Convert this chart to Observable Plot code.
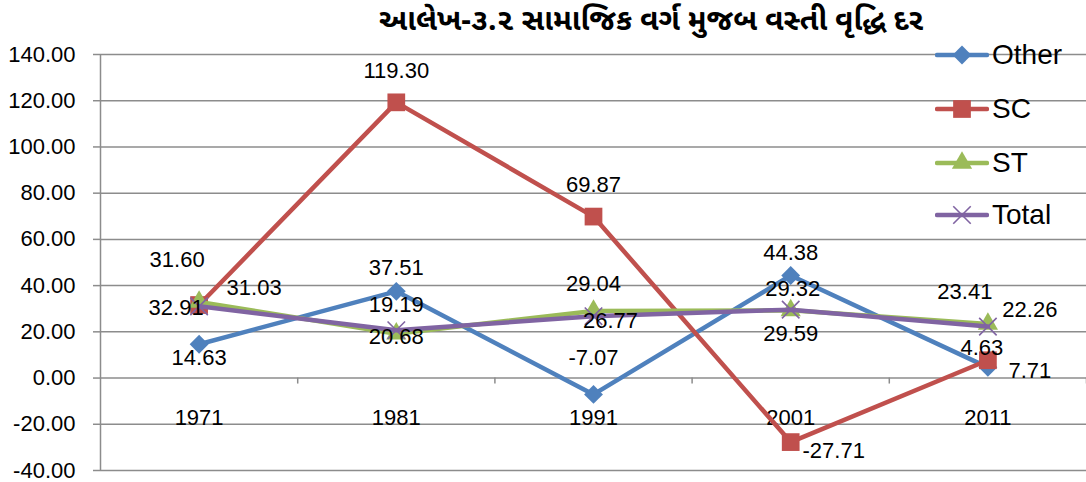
<!DOCTYPE html>
<html><head><meta charset="utf-8">
<script src="https://cdn.jsdelivr.net/npm/d3@7"></script>
<script src="https://cdn.jsdelivr.net/npm/@observablehq/plot@0.6"></script>
<style>
body{margin:0;background:#fff;width:1086px;height:482px;overflow:hidden;position:relative;font-family:"Liberation Sans",Arial,sans-serif;color:#000}
#title{height:40px;line-height:46px;width:870px;padding-left:216px;text-align:center;font-size:30px;font-weight:bold;font-family:"Noto Sans Gujarati","Noto Sans","Liberation Sans",sans-serif;white-space:nowrap}
#chart svg{display:block}
#legend{position:absolute;left:935px;top:0;width:151px;height:240px}
.item{position:absolute;left:0;height:30px;display:flex;align-items:center;font-size:28px;font-family:"Liberation Sans",Arial,sans-serif}
.item svg{display:block;margin-right:3px}
</style></head><body>
<div id="title">આલેખ-૩.૨ સામાજિક વર્ગ મુજબ વસ્તી વૃદ્ધિ દર</div>
<div id="chart"></div>
<div id="legend"></div>
<script>
// ---- data ----
const years = [1971, 1981, 1991, 2001, 2011];
const seriesNames = ["Other", "SC", "ST", "Total"];
const other = [14.63, 37.51, -7.07, 44.38, 4.63];
const sc = [31.60, 119.30, 69.87, -27.71, 7.71];
const st = [32.91, 19.19, 29.04, 29.32, 23.41];
const total = [31.03, 20.68, 26.77, 29.59, 22.26];
const yTicks = [-40, -20, 0, 20, 40, 60, 80, 100, 120, 140];

// ---- styling / label placement (pixels) ----
const colors = {Other: "#4F81BD", SC: "#C0504D", ST: "#9BBB59", Total: "#8064A2"};
const symbols = {Other: "diamond2", SC: "square", ST: "triangle", Total: "times"};
const radii = {Other: 8.5, SC: 10, ST: 7.5, Total: 8};
const labelOffsets = {
  Other: [[0, 14], [0, -23], [0, -36], [0, -23], [-6, -19]],
  SC:    [[-22, -45], [0, -31], [0, -32], [43, 9], [42, 11]],
  ST:    [[-23, 6], [0, -29], [0, -27], [2, -21], [-23, -32]],
  Total: [[55, -18], [0, 7], [17, 5], [0, 24], [42, -17]]
};

const seriesValues = {Other: other, SC: sc, ST: st, Total: total};
const rows = seriesNames.flatMap(s => years.map((yr, i) => ({
  series: s, year: yr, value: seriesValues[s][i],
  dx: labelOffsets[s][i][0], dy: labelOffsets[s][i][1]
})));

const step = years[1] - years[0];
const xDomain = [years[0] - step / 2, years[years.length - 1] + step / 2];
const boundaries = years.map(y => y + step / 2);
const gridColor = "#8c8c8c";
const fs = 22;

const marks = [
  Plot.ruleY(yTicks, {stroke: gridColor, strokeWidth: 1.5}),
  Plot.ruleX([xDomain[0]], {y1: yTicks[0], y2: yTicks[yTicks.length - 1], stroke: gridColor, strokeWidth: 1.5}),
  Plot.ruleX(boundaries, {y1: 0, y2: 0, insetBottom: -6, stroke: gridColor, strokeWidth: 1.5}),
  Plot.axisY({ticks: yTicks, tickFormat: d => d.toFixed(2), tickSize: 7, tickPadding: 18, fontSize: fs, stroke: gridColor, strokeWidth: 1.5, fill: "#000", strokeOpacity: 1, label: null}),
  Plot.text(years, {x: d => d, y: () => 0, text: d => String(d), dy: 40, fontSize: fs, fill: "#000"})
];
for (const s of seriesNames) {
  const data = rows.filter(r => r.series === s);
  marks.push(Plot.line(data, {x: "year", y: "value", stroke: colors[s], strokeWidth: 4.5, strokeLinejoin: "round", strokeLinecap: "round"}));
  if (symbols[s] === "times") {
    marks.push(Plot.dot(data, {x: "year", y: "value", symbol: "times", r: radii[s], stroke: colors[s], strokeWidth: 1.6, fill: "none"}));
  } else {
    marks.push(Plot.dot(data, {x: "year", y: "value", symbol: symbols[s], r: radii[s], fill: colors[s], stroke: "none"}));
  }
}
for (const r of rows) {
  marks.push(Plot.text([r], {x: "year", y: "value", text: d => d.value.toFixed(2), dx: r.dx, dy: r.dy, fontSize: fs, fill: "#000"}));
}

const chart = Plot.plot({
  width: 1086,
  height: 442,
  marginTop: 14,
  marginBottom: 12,
  marginLeft: 100,
  marginRight: 0,
  style: {fontFamily: "'Liberation Sans', Arial, sans-serif", background: "#fff", overflow: "visible"},
  x: {type: "linear", domain: xDomain, axis: null},
  y: {domain: [yTicks[0], yTicks[yTicks.length - 1]], axis: null},
  marks
});
document.getElementById("chart").appendChild(chart);

// ---- legend ----
const legend = document.getElementById("legend");
const legendTops = [55, 109, 163, 215];
seriesNames.forEach((s, i) => {
  const item = document.createElement("div");
  item.className = "item";
  item.style.top = (legendTops[i] - 15) + "px";
  const svg = d3.create("svg").attr("width", 54).attr("height", 30);
  svg.append("line").attr("x1", 2).attr("x2", 52).attr("y1", 15).attr("y2", 15)
    .attr("stroke", colors[s]).attr("stroke-width", 4.5).attr("stroke-linecap", "round");
  const symMap = {diamond2: d3.symbolDiamond2, square: d3.symbolSquare, triangle: d3.symbolTriangle, times: d3.symbolTimes};
  const size = Math.PI * radii[s] * radii[s];
  const p = svg.append("path").attr("transform", "translate(27,15)").attr("d", d3.symbol(symMap[symbols[s]], size)());
  if (symbols[s] === "times") p.attr("fill", "none").attr("stroke", colors[s]).attr("stroke-width", 1.6);
  else p.attr("fill", colors[s]);
  item.appendChild(svg.node());
  const t = document.createElement("span");
  t.textContent = s;
  item.appendChild(t);
  legend.appendChild(item);
});
</script>
</body></html>
